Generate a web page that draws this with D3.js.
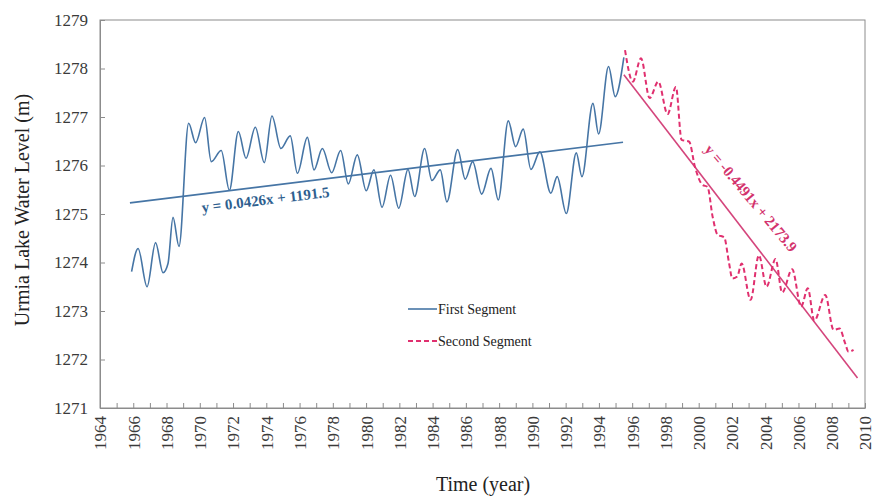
<!DOCTYPE html>
<html>
<head>
<meta charset="utf-8">
<script src="https://cdn.jsdelivr.net/npm/d3@7"></script>
<style>
  html, body { margin: 0; padding: 0; background: #fff; }
  svg { display: block; }
  text { font-family: "Liberation Serif", "Times New Roman", serif; }
</style>
</head>
<body>
<svg id="chart" width="877" height="497"></svg>
<script>
// ---- data ----
const firstYears = [1965.90, 1966.29, 1966.83, 1967.34, 1967.79, 1968.09, 1968.39, 1968.75, 1969.33, 1969.75,
  1970.29, 1970.69, 1971.29, 1971.78, 1972.32, 1972.78, 1973.34, 1973.88, 1974.34, 1974.88,
  1975.44, 1975.87, 1976.47, 1976.87, 1977.37, 1977.93, 1978.47, 1978.93, 1979.47, 1980.01,
  1980.47, 1980.96, 1981.47, 1981.96, 1982.52, 1982.92, 1983.52, 1983.96, 1984.46, 1984.86,
  1985.51, 1985.96, 1986.41, 1986.95, 1987.51, 1987.95, 1988.55, 1988.99, 1989.45, 1989.91,
  1990.45, 1991.11, 1991.49, 1992.04, 1992.64, 1992.98, 1993.64, 1993.98, 1994.58, 1994.98, 1995.50];
const firstLevels = [1273.81, 1274.29, 1273.50, 1274.41, 1273.79, 1273.98, 1274.93, 1274.33, 1276.87, 1276.47,
  1276.99, 1276.08, 1276.31, 1275.49, 1276.70, 1276.15, 1276.79, 1276.06, 1277.02, 1276.35,
  1276.61, 1275.84, 1276.58, 1275.91, 1276.35, 1275.85, 1276.31, 1275.62, 1276.22, 1275.48,
  1275.91, 1275.14, 1275.80, 1275.12, 1275.92, 1275.36, 1276.35, 1275.69, 1275.91, 1275.25,
  1276.33, 1275.72, 1276.08, 1275.41, 1275.94, 1275.29, 1276.92, 1276.39, 1276.75, 1275.92,
  1276.28, 1275.43, 1275.77, 1275.01, 1276.26, 1275.77, 1277.28, 1276.65, 1278.04, 1277.42, 1278.23];

const secondYears = [1995.57, 1996.04, 1996.53, 1997.05, 1997.57, 1998.13, 1998.63, 1998.97, 1999.43, 1999.77,
  2000.23, 2000.53, 2000.84, 2001.14, 2001.53, 2001.83, 2002.02, 2002.32, 2002.58, 2003.12,
  2003.62, 2004.08, 2004.62, 2005.02, 2005.62, 2006.16, 2006.56, 2006.95, 2007.61, 2008.11,
  2008.47, 2008.81, 2009.01, 2009.31];
const secondLevels = [1278.38, 1277.73, 1278.21, 1277.39, 1277.73, 1277.06, 1277.62, 1276.53, 1276.49, 1275.98,
  1275.60, 1275.56, 1274.94, 1274.57, 1274.52, 1273.98, 1273.67, 1273.71, 1273.98, 1273.23,
  1274.15, 1273.50, 1274.07, 1273.38, 1273.86, 1273.09, 1273.47, 1272.80, 1273.33, 1272.61,
  1272.64, 1272.33, 1272.16, 1272.20];

const trend1Years = [1965.8, 1995.45];
const trend1Levels = [1275.23, 1276.48];
const trend2Years = [1995.5, 2009.55];
const trend2Levels = [1277.87, 1271.62];

const yTickValues = [1271, 1272, 1273, 1274, 1275, 1276, 1277, 1278, 1279];
const xTickValues = d3.range(1964, 2011);
const seriesNames = ["First Segment", "Second Segment"];
const equations = ["y = 0.0426x + 1191.5", "y = -0.4491x + 2173.9"];

// ---- layout ----
const svg = d3.select("#chart");
const mLeft = 100, mRight = 865, mTop = 20, mBottom = 408;
const x = d3.scaleLinear().domain([1964, 2010]).range([mLeft, mRight]);
const y = d3.scaleLinear().domain([1271, 1279]).range([mBottom, mTop]);

const axisColor = "#8c8c8c";
const labelColor = "#3a3a3a";
const blue = "#4675a5";
const pink = "#e0306f";
const pinkTrend = "#d4457c";

// plot border
svg.append("rect")
  .attr("x", mLeft).attr("y", mTop)
  .attr("width", mRight - mLeft).attr("height", mBottom - mTop)
  .attr("fill", "none").attr("stroke", axisColor).attr("stroke-width", 1);

// y axis
const gy = svg.append("g").attr("transform", `translate(${mLeft},0)`)
  .call(d3.axisLeft(y).tickValues(yTickValues).tickFormat(d3.format("d"))
    .tickSizeInner(-5).tickSizeOuter(0).tickPadding(12));
gy.select(".domain").attr("stroke", axisColor);
gy.selectAll(".tick line").attr("stroke", axisColor);
gy.selectAll(".tick text").attr("fill", labelColor)
  .style("font-family", "Liberation Serif").style("font-size", "17px");

// x axis
const gx = svg.append("g").attr("transform", `translate(0,${mBottom})`)
  .call(d3.axisBottom(x).tickValues(xTickValues)
    .tickFormat(d => d % 2 === 0 ? d : "")
    .tickSizeInner(-5).tickSizeOuter(0));
gx.select(".domain").attr("stroke", axisColor);
gx.selectAll(".tick line").attr("stroke", axisColor);
gx.selectAll(".tick text")
  .attr("fill", labelColor)
  .attr("transform", "rotate(-90)")
  .attr("x", -8).attr("y", 0).attr("dy", "0.35em")
  .style("text-anchor", "end")
  .style("font-family", "Liberation Serif").style("font-size", "17px");

// axis titles
svg.append("text")
  .attr("transform", `translate(22,${(mTop + mBottom) / 2 - 4}) rotate(-90)`)
  .attr("text-anchor", "middle").attr("dy", "0.35em")
  .attr("fill", "#222").style("font-size", "20px")
  .text("Urmia Lake Water Level (m)");
svg.append("text")
  .attr("x", 483).attr("y", 484).attr("dy", "0.35em")
  .attr("text-anchor", "middle")
  .attr("fill", "#222").style("font-size", "20px")
  .text("Time (year)");

// lines
const line = d3.line().x(d => x(d[0])).y(d => y(d[1])).curve(d3.curveMonotoneX);
const straight = d3.line().x(d => x(d[0])).y(d => y(d[1]));

const first = firstYears.map((t, i) => [t, firstLevels[i]]);
const second = secondYears.map((t, i) => [t, secondLevels[i]]);
const t1 = trend1Years.map((t, i) => [t, trend1Levels[i]]);
const t2 = trend2Years.map((t, i) => [t, trend2Levels[i]]);

svg.append("path").datum(t1).attr("d", straight)
  .attr("fill", "none").attr("stroke", blue).attr("stroke-width", 1.6);
svg.append("path").datum(t2).attr("d", straight)
  .attr("fill", "none").attr("stroke", pinkTrend).attr("stroke-width", 1.6);

svg.append("path").datum(first).attr("d", line)
  .attr("fill", "none").attr("stroke", blue).attr("stroke-width", 1.6)
  .attr("stroke-linejoin", "round");
svg.append("path").datum(second).attr("d", line)
  .attr("fill", "none").attr("stroke", pink).attr("stroke-width", 2)
  .attr("stroke-dasharray", "5,3");

// equations
svg.append("text")
  .attr("transform", `translate(${x(1973.95)},${y(1275.3)}) rotate(-7)`)
  .attr("text-anchor", "middle").attr("dy", "0.35em")
  .attr("fill", "#2f5f8f").style("font-size", "15px").style("font-weight", "bold")
  .text(equations[0]);
svg.append("text")
  .attr("transform", `translate(${x(2003.15)},${y(1275.33)}) rotate(50)`)
  .attr("text-anchor", "middle").attr("dy", "0.35em")
  .attr("fill", "#d3336d").style("font-size", "15px").style("font-weight", "bold")
  .text(equations[1]);

// legend
const legend = svg.append("g").attr("transform", "translate(408,309)");
const legendRows = [
  { name: seriesNames[0], color: blue, dash: null, w: 1.6 },
  { name: seriesNames[1], color: pink, dash: "5,3", w: 2 }
];
legendRows.forEach((r, i) => {
  const g = legend.append("g").attr("transform", `translate(0,${i * 32})`);
  g.append("line").attr("x1", 0).attr("x2", 29).attr("y1", 0).attr("y2", 0)
    .attr("stroke", r.color).attr("stroke-width", r.w)
    .attr("stroke-dasharray", r.dash);
  g.append("text").attr("x", 30).attr("y", 0).attr("dy", "0.35em")
    .attr("fill", "#222").style("font-size", "14px").text(r.name);
});
</script>
</body>
</html>
